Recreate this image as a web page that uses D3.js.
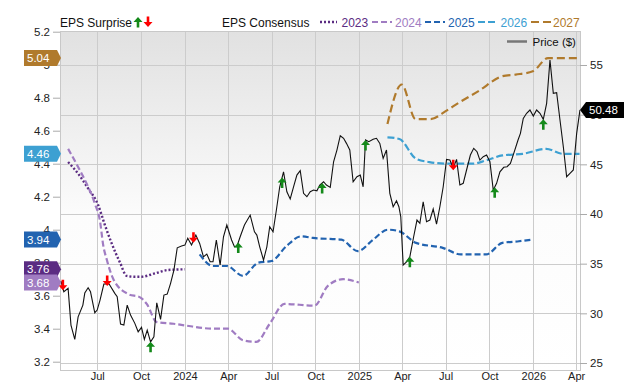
<!DOCTYPE html>
<html><head><meta charset="utf-8">
<script src="https://cdn.jsdelivr.net/npm/d3@7"></script>
<style>body{margin:0;background:#fff;} svg{display:block;font-family:"Liberation Sans",Arial,sans-serif;}</style>
</head><body><svg id="c" width="640" height="382"></svg>
<script>
// ---------- DATA ----------
const priceDates = ["2023-04-16","2023-04-22","2023-05-01","2023-05-07","2023-05-15","2023-05-22","2023-06-01","2023-06-05","2023-06-12","2023-06-17","2023-06-26","2023-07-01","2023-07-07","2023-07-15","2023-07-26","2023-08-07","2023-08-12","2023-08-19","2023-08-26","2023-09-02","2023-09-09","2023-09-18","2023-09-25","2023-10-02","2023-10-08","2023-10-14","2023-10-21","2023-10-28","2023-11-03","2023-11-11","2023-11-18","2023-11-25","2023-12-02","2023-12-09","2023-12-16","2023-12-25","2024-01-01","2024-01-07","2024-01-15","2024-01-24","2024-02-01","2024-02-09","2024-02-16","2024-02-23","2024-02-29","2024-03-07","2024-03-15","2024-03-22","2024-03-29","2024-04-08","2024-04-14","2024-04-19","2024-04-26","2024-05-05","2024-05-17","2024-05-26","2024-05-31","2024-06-06","2024-06-14","2024-06-21","2024-06-27","2024-07-04","2024-07-11","2024-07-18","2024-07-26","2024-08-02","2024-08-09","2024-08-16","2024-08-23","2024-08-30","2024-09-06","2024-09-13","2024-09-20","2024-09-27","2024-10-04","2024-10-10","2024-10-18","2024-10-24","2024-11-01","2024-11-08","2024-11-15","2024-11-22","2024-11-29","2024-12-05","2024-12-12","2024-12-19","2024-12-27","2025-01-03","2025-01-09","2025-01-14","2025-01-21","2025-01-30","2025-02-06","2025-02-13","2025-02-20","2025-02-27","2025-03-06","2025-03-13","2025-03-20","2025-03-25","2025-03-29","2025-04-03","2025-04-10","2025-04-17","2025-04-25","2025-05-02","2025-05-08","2025-05-15","2025-05-22","2025-05-29","2025-06-05","2025-06-12","2025-06-19","2025-06-26","2025-07-03","2025-07-10","2025-07-17","2025-07-24","2025-07-31","2025-08-07","2025-08-14","2025-08-22","2025-08-29","2025-09-05","2025-09-11","2025-09-18","2025-09-25","2025-10-02","2025-10-09","2025-10-16","2025-10-23","2025-10-31","2025-11-07","2025-11-14","2025-11-21","2025-11-30","2025-12-05","2025-12-11","2025-12-18","2025-12-25","2026-01-01","2026-01-08","2026-01-15","2026-01-22","2026-01-29","2026-02-05","2026-02-12","2026-02-19","2026-02-26","2026-03-05","2026-03-12","2026-03-19","2026-03-26","2026-04-02","2026-04-09"];
const priceValues = [33.25,32.17,32.51,28.82,27.38,29.65,30.83,32.04,32.57,32.17,30.06,30.33,31.33,32.95,32.95,32.01,31.67,28.92,28.82,30.83,29.82,28.99,28.14,28.59,27.38,28.31,27.13,27.64,31.06,29.39,31.84,31.94,33.02,34.36,36.60,36.77,36.87,37.55,36.87,37.88,37.04,35.69,35.97,35.19,35.19,37.38,34.86,37.71,38.89,37.38,36.70,36.70,37.71,38.89,39.89,38.21,37.88,36.70,35.36,36.70,38.72,38.21,40.40,42.74,44.25,42.24,41.51,42.74,43.92,44.36,42.08,41.74,42.24,42.41,42.34,42.92,43.25,42.92,42.68,45.26,46.44,47.88,47.62,47.11,46.44,43.25,43.75,43.92,42.74,47.45,47.28,47.52,47.62,47.11,45.60,46.44,42.08,40.73,41.33,40.73,39.72,34.86,35.19,35.69,37.71,39.39,39.06,41.23,39.22,39.39,40.50,38.99,40.73,42.74,45.50,45.43,44.60,45.50,42.92,43.09,44.43,45.94,46.61,46.27,45.43,45.77,45.94,45.26,42.41,43.09,44.25,44.70,44.76,45.10,46.11,47.45,48.12,49.63,50.14,50.47,49.86,50.47,50.14,49.53,51.14,55.50,52.15,52.21,49.46,46.77,43.75,44.09,44.43,48.12,50.48];

const eps2023Dates  = ["2023-05-01","2023-05-22","2023-06-12","2023-07-03","2023-07-17","2023-07-31","2023-08-18","2023-09-01","2023-09-18","2023-10-02","2023-10-30","2023-11-27","2024-01-01"];
const eps2023Values = [4.41,4.34,4.25,4.15,4.03,3.92,3.80,3.72,3.715,3.715,3.735,3.756,3.76];
const eps2024Dates  = ["2023-05-01","2023-05-22","2023-06-12","2023-06-26","2023-07-07","2023-07-14","2023-07-21","2023-08-04","2023-09-04","2023-09-29","2023-10-13","2023-11-03","2023-12-08","2024-01-01","2024-02-29","2024-03-31","2024-05-02","2024-05-30","2024-06-27","2024-07-28","2024-09-29","2024-10-27","2024-11-28","2024-12-31"];
const eps2024Values = [4.49,4.38,4.26,4.16,4.05,3.90,3.82,3.70,3.61,3.59,3.55,3.44,3.43,3.42,3.40,3.40,3.33,3.32,3.43,3.55,3.54,3.66,3.70,3.68];
const eps2025Dates  = ["2024-02-01","2024-02-29","2024-03-29","2024-05-02","2024-06-03","2024-07-01","2024-08-01","2024-09-01","2024-09-26","2024-11-24","2024-12-29","2025-01-30","2025-03-02","2025-03-26","2025-04-30","2025-06-25","2025-08-02","2025-09-24","2025-10-28","2025-12-02","2025-12-29"];
const eps2025Values = [3.85,3.78,3.78,3.72,3.80,3.81,3.90,3.96,3.95,3.94,3.87,3.94,4.00,3.99,3.92,3.89,3.85,3.85,3.92,3.93,3.94];
const eps2026Dates  = ["2025-03-01","2025-03-26","2025-04-30","2025-05-28","2025-07-02","2025-08-27","2025-09-24","2025-10-28","2025-12-10","2026-01-28","2026-03-04","2026-04-08"];
const eps2026Values = [4.56,4.55,4.43,4.41,4.40,4.40,4.42,4.45,4.46,4.49,4.46,4.46];
const eps2027Dates  = ["2025-03-01","2025-03-31","2025-04-29","2025-05-30","2025-07-02","2025-07-29","2025-09-08","2025-10-28","2025-11-25","2025-12-31","2026-02-01","2026-03-03","2026-04-08"];
const eps2027Values = [4.64,4.88,4.67,4.67,4.72,4.77,4.84,4.93,4.94,4.96,5.04,5.04,5.04];

const consensusYears  = ["2023","2024","2025","2026","2027"];
const consensusLast   = [3.76,3.68,3.94,4.46,5.04];
const lastPrice = 50.48;

const surpriseDates = ["2023-04-20","2023-07-22","2023-10-21","2024-01-19","2024-04-22","2024-07-23","2024-10-15","2025-01-14","2025-04-17","2025-07-17","2025-10-12","2026-01-22"];
const surpriseTypes = ["miss","miss","beat","miss","beat","beat","beat","beat","beat","miss","beat","beat"];

const epsTicks   = [3.2,3.4,3.6,3.8,4.0,4.2,4.4,4.6,4.8,5.0,5.2];
const priceTicks = [25,30,35,40,45,50,55];
const xTickDates  = ["2023-07-01","2023-10-01","2024-01-01","2024-04-01","2024-07-01","2024-10-01","2025-01-01","2025-04-01","2025-07-01","2025-10-01","2026-01-01","2026-04-01"];
const xTickLabels = ["Jul","Oct","2024","Apr","Jul","Oct","2025","Apr","Jul","Oct","2026","Apr"];

// ---------- STYLE ----------
const colors = {"2023":"#5b2c82","2024":"#a07cc2","2025":"#2263b0","2026":"#3da0d2","2027":"#b07a2c"};
const dashes = {"2023":"2,2","2024":"6,3","2025":"6,3","2026":"7,3","2027":"8,4"};
const widths = {"2023":2.4,"2024":2.2,"2025":2.2,"2026":2.2,"2027":2.2};

const parse = d3.utcParse("%Y-%m-%d");
const L = 60, R = 580, T = 31.5, B = 370;

const x = d3.scaleUtc().domain([parse("2023-04-14"), parse("2026-04-09")]).range([L, R]);
const yE = d3.scaleLinear().domain([3.2, 5.2]).range([361.7, 31.7]);
const yP = d3.scaleLinear().domain([25, 55]).range([363, 65]);

const svg = d3.select("#c");
const defs = svg.append("defs");
const grad = defs.append("linearGradient").attr("id","bg").attr("x1",0).attr("y1",0).attr("x2",0).attr("y2",1);
grad.append("stop").attr("offset","0%").attr("stop-color","#e1e1e1");
grad.append("stop").attr("offset","55%").attr("stop-color","#fcfcfc");
grad.append("stop").attr("offset","100%").attr("stop-color","#ffffff");
defs.append("clipPath").attr("id","clip").append("rect").attr("x",L).attr("y",T).attr("width",R-L).attr("height",B-T);

svg.append("rect").attr("x",L).attr("y",T).attr("width",R-L).attr("height",B-T).attr("fill","url(#bg)");

// grid
const grid = svg.append("g").attr("stroke","#cccccc").attr("stroke-width",1).attr("shape-rendering","crispEdges");
grid.selectAll(".h").data(priceTicks).join("line")
  .attr("x1",L).attr("x2",R).attr("y1",d=>Math.round(yP(d))+0.5).attr("y2",d=>Math.round(yP(d))+0.5);
grid.selectAll(".v").data(xTickDates).join("line")
  .attr("x1",d=>Math.round(x(parse(d)))+0.5).attr("x2",d=>Math.round(x(parse(d)))+0.5).attr("y1",T).attr("y2",B);
// frame
svg.append("rect").attr("x",L+0.5).attr("y",T).attr("width",R-L).attr("height",B-T+0.5)
  .attr("fill","none").attr("stroke","#c8c8c8").attr("shape-rendering","crispEdges");

// left EPS axis
const axL = svg.append("g").attr("transform",`translate(${L},0)`)
  .call(d3.axisLeft(yE).tickValues(epsTicks).tickSize(7).tickPadding(3).tickFormat(d=>String(+d.toFixed(1))));
axL.select(".domain").remove();
axL.selectAll("line").attr("stroke","#aaaaaa");
axL.selectAll("text").attr("font-size","11.5px").attr("fill","#222").attr("font-family","Liberation Sans, Arial, sans-serif");

// right price axis
const axR = svg.append("g").attr("transform",`translate(${R},0)`)
  .call(d3.axisRight(yP).tickValues(priceTicks).tickSize(7).tickPadding(3).tickFormat(d=>d));
axR.select(".domain").remove();
axR.selectAll("line").attr("stroke","#aaaaaa");
axR.selectAll("text").attr("font-size","11.5px").attr("fill","#222").attr("font-family","Liberation Sans, Arial, sans-serif");

// bottom axis
const axB = svg.append("g").attr("transform",`translate(0,${B})`)
  .call(d3.axisBottom(x).tickValues(xTickDates.map(parse)).tickSize(0).tickPadding(2)
    .tickFormat((d,i)=>xTickLabels[i]));
axB.select(".domain").remove();
axB.selectAll("text").attr("font-size","11px").attr("fill","#222").attr("font-family","Liberation Sans, Arial, sans-serif");

// consensus lines
const epsSeries = {
  "2023": eps2023Dates.map((d,i)=>({date:parse(d), v:eps2023Values[i]})),
  "2024": eps2024Dates.map((d,i)=>({date:parse(d), v:eps2024Values[i]})),
  "2025": eps2025Dates.map((d,i)=>({date:parse(d), v:eps2025Values[i]})),
  "2026": eps2026Dates.map((d,i)=>({date:parse(d), v:eps2026Values[i]})),
  "2027": eps2027Dates.map((d,i)=>({date:parse(d), v:eps2027Values[i]}))
};
const lineE = d3.line().x(d=>x(d.date)).y(d=>yE(d.v)).curve(d3.curveMonotoneX);
const plot = svg.append("g").attr("clip-path","url(#clip)");
consensusYears.forEach(yr=>{
  plot.append("path").datum(epsSeries[yr]).attr("d",lineE)
    .attr("fill","none").attr("stroke",colors[yr]).attr("stroke-width",widths[yr])
    .attr("stroke-dasharray",dashes[yr]);
});

// price line
const priceData = priceDates.map((d,i)=>({date:parse(d), v:priceValues[i]}));
plot.append("path").datum(priceData)
  .attr("d", d3.line().x(d=>x(d.date)).y(d=>yP(d.v)))
  .attr("fill","none").attr("stroke","#111").attr("stroke-width",1.1);

// surprise arrows
function priceAt(date){
  const i = d3.bisector(d=>d.date).left(priceData, date);
  if (i<=0) return priceData[0].v;
  if (i>=priceData.length) return priceData[priceData.length-1].v;
  const a = priceData[i-1], b = priceData[i];
  const t = (date-a.date)/(b.date-a.date);
  return a.v + t*(b.v-a.v);
}
const upPath = "M0,-5 L4.5,0 L1.3,0 L1.3,5.5 L-1.3,5.5 L-1.3,0 L-4.5,0 Z";
const downPath = "M0,5 L4.5,0 L1.3,0 L1.3,-5.5 L-1.3,-5.5 L-1.3,0 L-4.5,0 Z";
surpriseDates.forEach((d,i)=>{
  const dt = parse(d);
  const px = x(dt), py = yP(priceAt(dt));
  const beat = surpriseTypes[i]==="beat";
  svg.append("path").attr("d", beat?upPath:downPath)
    .attr("transform",`translate(${px},${beat?py+5:py-3})`)
    .attr("fill", beat?"#14891a":"#ff0000");
});

// left badges
consensusYears.forEach((yr,i)=>{
  const yy = yE(consensusLast[i]);
  const g = svg.append("g");
  g.append("path").attr("d",`M24,${yy-8} L57,${yy-8} L61,${yy} L57,${yy+8} L24,${yy+8} Z`).attr("fill",colors[yr]);
  g.append("text").attr("x",27).attr("y",yy+4).attr("fill","#fff").attr("font-size","11.5px").text(consensusLast[i].toFixed(2));
});

// right price badge
{
  const yy = yP(lastPrice);
  svg.append("path").attr("d",`M580,${yy} L586,${yy-8} L624,${yy-8} L624,${yy+8} L586,${yy+8} Z`).attr("fill","#000");
  svg.append("text").attr("x",589).attr("y",yy+4).attr("fill","#fff").attr("font-size","11.5px").text(lastPrice.toFixed(2));
}

// legend
const lg = svg.append("g").attr("font-size","12px");
lg.append("text").attr("x",60).attr("y",27).attr("fill","#111").text("EPS Surprise");
svg.append("path").attr("d",upPath).attr("transform","translate(138,22)").attr("fill","#14891a");
svg.append("path").attr("d",downPath).attr("transform","translate(148,22)").attr("fill","#ff0000");
lg.append("text").attr("x",222).attr("y",27).attr("fill","#111").text("EPS Consensus");
const legX = {"2023":[320,337,341.5],"2024":[372,392,395],"2025":[425,445,448],"2026":[478,496,500.5],"2027":[531,551,553]};
consensusYears.forEach(yr=>{
  const p = legX[yr];
  lg.append("line").attr("x1",p[0]).attr("x2",p[1]).attr("y1",22).attr("y2",22)
    .attr("stroke",colors[yr]).attr("stroke-width",widths[yr]).attr("stroke-dasharray",dashes[yr]);
  lg.append("text").attr("x",p[2]).attr("y",27).attr("fill",colors[yr]).text(yr);
});
svg.append("line").attr("x1",507).attr("x2",527).attr("y1",41.5).attr("y2",41.5).attr("stroke","#777").attr("stroke-width",2.5);
svg.append("text").attr("x",532.5).attr("y",46).attr("font-size","11.5px").attr("fill","#111").text("Price ($)");
</script></body></html>
